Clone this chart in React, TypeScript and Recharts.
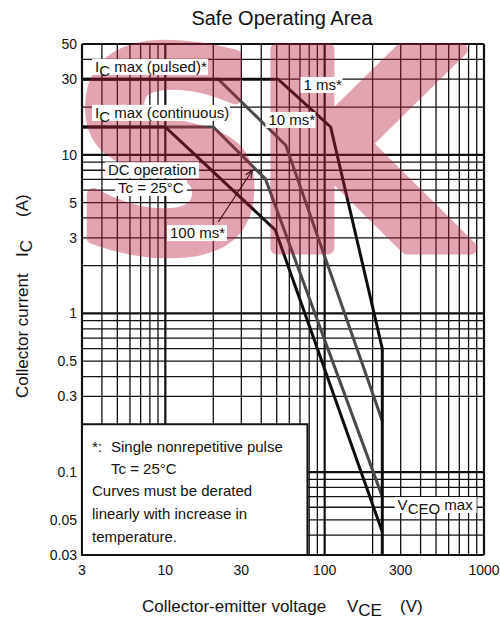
import React from 'react';
import {
  ComposedChart,
  Line,
  XAxis,
  YAxis,
  ReferenceLine,
  ReferenceDot,
  ReferenceArea,
} from 'recharts';

// axis ticks
const xTicks = [3, 10, 30, 100, 300, 1000];
const yTicks = [0.03, 0.05, 0.1, 0.3, 0.5, 1, 3, 5, 10, 30, 50];

// log grid (0.2 is the top edge of the note box)
const xGrid = [3, 4, 5, 6, 7, 8, 9, 10, 20, 30, 40, 50, 60, 70, 80, 90, 100, 200, 300, 400, 500, 600, 700, 800, 900, 1000];
const yGrid = [0.03, 0.04, 0.05, 0.06, 0.07, 0.08, 0.09, 0.1, 0.3, 0.4, 0.5, 0.6, 0.7, 0.8, 0.9, 1, 2, 3, 4, 5, 6, 7, 8, 9, 10, 20, 30, 40, 50];
const xMajor = [3, 10, 100, 1000];
const yMajor = [0.03, 0.1, 1, 10, 50];

// SOA curves: VCE (V) -> IC (A)
const pulse1ms = [
  { v: 3, i: 30 },
  { v: 51, i: 30 },
  { v: 109, i: 15 },
  { v: 230, i: 0.6 },
  { v: 230, i: 0.03 },
];
const pulse10ms = [
  { v: 3, i: 30 },
  { v: 21.5, i: 30 },
  { v: 57, i: 11.5 },
  { v: 230, i: 0.21 },
];
const pulse100ms = [
  { v: 3, i: 15 },
  { v: 20, i: 15 },
  { v: 42.5, i: 7.05 },
  { v: 230, i: 0.07 },
];
const dcOperation = [
  { v: 3, i: 15 },
  { v: 10, i: 15 },
  { v: 49, i: 3.36 },
  { v: 230, i: 0.042 },
];

const W = 500;
const H = 621;
const MARGIN = { top: 44, right: 16, bottom: 0, left: 0 };
const FONT = '"Liberation Sans", Arial, sans-serif';
const INK = '#111';

const Sub = ({ main, sub, rest }: { main: string; sub: string; rest: string }) => (
  <>
    {main}
    <tspan dy={4}>{sub}</tspan>
    <tspan dy={-4}>{rest}</tspan>
  </>
);

// label with a white box, anchored at its left / vertical centre
const boxLabel = (content: React.ReactNode, width: number) => (p: any) => (
  <g>
    <rect x={p.cx - 3} y={p.cy - 8} width={width} height={16} fill="#fff" />
    <text x={p.cx} y={p.cy + 5} fontSize={15} fill={INK} fontFamily={FONT}>
      {content}
    </text>
  </g>
);

const arrowShape = (p: any) => {
  const { x1, y1, x2, y2 } = p;
  const a = Math.atan2(y2 - y1, x2 - x1);
  const L = 8;
  const s = 0.4;
  const ax = x2 - L * Math.cos(a - s);
  const ay = y2 - L * Math.sin(a - s);
  const bx = x2 - L * Math.cos(a + s);
  const by = y2 - L * Math.sin(a + s);
  return (
    <g stroke="#3a0a12" strokeWidth={1.1} fill="none">
      <line x1={x1} y1={y1} x2={x2} y2={y2} />
      <polyline points={`${ax},${ay} ${x2},${y2} ${bx},${by}`} />
    </g>
  );
};

const noteContent = (p: any) => {
  const { x, y } = p.viewBox;
  const lines = [
    { dx: 10, dy: 28, t: '*:' },
    { dx: 29, dy: 28, t: 'Single nonrepetitive pulse' },
    { dx: 29, dy: 50, t: 'Tc = 25°C' },
    { dx: 10, dy: 72, t: 'Curves must be derated' },
    { dx: 10, dy: 95, t: 'linearly with increase in' },
    { dx: 10, dy: 118, t: 'temperature.' },
  ];
  return (
    <g>
      {lines.map((l, k) => (
        <text key={k} x={x + l.dx} y={y + l.dy} fontSize={15} fill={INK} fontFamily={FONT}>
          {l.t}
        </text>
      ))}
    </g>
  );
};

const axes = (showTicks: boolean) => [
  <XAxis
    key="x"
    dataKey="v"
    type="number"
    scale="log"
    domain={[3, 1000]}
    allowDataOverflow
    ticks={xTicks}
    tick={showTicks ? { fill: INK, fontSize: 14 } : false}
    tickFormatter={(v: number) => String(v)}
    tickLine={false}
    axisLine={false}
    tickSize={0}
    tickMargin={10}
    height={66}
  />,
  <YAxis
    key="y"
    dataKey="i"
    type="number"
    scale="log"
    domain={[0.03, 50]}
    allowDataOverflow
    ticks={yTicks}
    tick={showTicks ? { fill: INK, fontSize: 14 } : false}
    tickFormatter={(v: number) => String(v)}
    tickLine={false}
    axisLine={false}
    tickSize={0}
    tickMargin={5}
    width={82}
  />,
];

const layer: React.CSSProperties = { position: 'absolute', left: 0, top: 0 };

export default function App() {
  return (
    <div style={{ position: 'absolute', left: 0, top: 0, width: W, height: H, fontFamily: FONT, background: '#fff' }}>
      {/* grid, curves, ticks */}
      <div style={layer}>
        <ComposedChart width={W} height={H} margin={MARGIN}>
          {axes(true)}
          {xGrid.map((v) => (
            <ReferenceLine key={'gx' + v} x={v} stroke={INK} strokeWidth={xMajor.includes(v) ? 2.2 : 1.3} />
          ))}
          {yGrid.map((v) => (
            <ReferenceLine key={'gy' + v} y={v} stroke={INK} strokeWidth={yMajor.includes(v) ? 2.2 : 1.3} />
          ))}
          <Line data={pulse10ms} dataKey="i" type="linear" stroke="#4a4a4a" strokeWidth={3} dot={false} isAnimationActive={false} />
          <Line data={pulse100ms} dataKey="i" type="linear" stroke="#4a4a4a" strokeWidth={3} dot={false} isAnimationActive={false} />
          <Line data={dcOperation} dataKey="i" type="linear" stroke="#0d0d0d" strokeWidth={3} dot={false} isAnimationActive={false} />
          <Line data={pulse1ms} dataKey="i" type="linear" stroke="#0d0d0d" strokeWidth={3} dot={false} isAnimationActive={false} />
        </ComposedChart>
      </div>

      {/* watermark and titles */}
      <svg width={W} height={H} style={{ ...layer, pointerEvents: 'none' }}>
        <text
          x={72}
          y={248}
          fontFamily="DejaVu Sans"
          fontWeight="bold"
          fontSize={272}
          letterSpacing={-16}
          fill="#bb1e3e"
          stroke="#bb1e3e"
          strokeWidth={13}
          strokeLinejoin="round"
          opacity={0.4}
        >
          SK
        </text>
        <text x={282} y={25} textAnchor="middle" fontSize={20} fill={INK}>
          Safe Operating Area
        </text>
        <text x={142} y={612} fontSize={17} fill={INK}>Collector-emitter voltage</text>
        <text x={347} y={612} fontSize={17} fill={INK}>
          V<tspan dy={4}>CE</tspan>
        </text>
        <text x={400} y={612} fontSize={17} fill={INK}>(V)</text>
        <g transform="translate(28,398) rotate(-90)">
          <text x={0} y={0} fontSize={17} fill={INK}>Collector current</text>
          <text x={141} y={0} fontSize={17} fill={INK}>
            I<tspan dy={4}>C</tspan>
          </text>
          <text x={181} y={0} fontSize={17} fill={INK}>(A)</text>
        </g>
      </svg>

      {/* annotations */}
      <div style={layer}>
        <ComposedChart width={W} height={H} margin={MARGIN}>
          {axes(false)}
          <ReferenceArea
            x1={3}
            x2={78}
            y1={0.03}
            y2={0.2}
            fill="#fff"
            fillOpacity={1}
            stroke={INK}
            strokeWidth={2}
            label={{ content: noteContent }}
          />
          <ReferenceDot x={3.62} y={35.8} r={0} shape={boxLabel(<Sub main="I" sub="C" rest=" max (pulsed)*" />, 116)} />
          <ReferenceDot x={3.62} y={18.4} r={0} shape={boxLabel(<Sub main="I" sub="C" rest=" max (continuous)" />, 138)} />
          <ReferenceDot x={73.6} y={27.6} r={0} shape={boxLabel('1 ms*', 42)} />
          <ReferenceDot x={44.4} y={16.6} r={0} shape={boxLabel('10 ms*', 50)} />
          <ReferenceDot x={4.37} y={8.0} r={0} shape={boxLabel('DC operation', 94)} />
          <ReferenceDot x={5.05} y={6.18} r={0} shape={boxLabel('Tc = 25°C', 72)} />
          <ReferenceDot x={10.7} y={3.21} r={0} shape={boxLabel('100 ms*', 60)} />
          <ReferenceDot x={287} y={0.062} r={0} shape={boxLabel(<Sub main="V" sub="CEO" rest=" max" />, 82)} />
          <ReferenceLine segment={[{ x: 21.5, y: 3.77 }, { x: 35.2, y: 8.0 }]} shape={arrowShape} />
        </ComposedChart>
      </div>
    </div>
  );
}
